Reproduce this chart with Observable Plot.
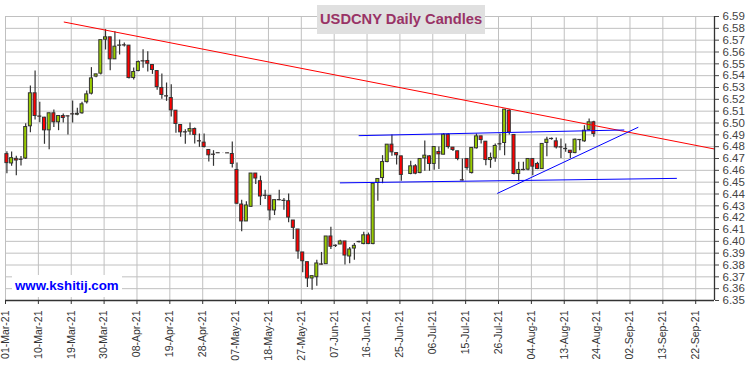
<!DOCTYPE html>
<html>
<head>
<meta charset="utf-8">
<script src="https://cdn.jsdelivr.net/npm/d3@7"></script>
<script src="https://cdn.jsdelivr.net/npm/@observablehq/plot@0.6"></script>
<style>
  body { margin: 0; background: #fff; }
  #wrap { position: relative; width: 750px; height: 366px; font-family: "Liberation Sans", Arial, sans-serif; }
  #title { position: absolute; left: 317px; top: 5px; height: 29px; line-height: 29px; padding: 0 3px;
           background: #e0e0e0; color: #993366; font-weight: bold; font-size: 14.7px; white-space: nowrap; }
  #mark { position: absolute; left: 12px; top: 275px; width: 107px; height: 22px; line-height: 22px; padding-left: 3px;
          background: #fff; color: #0000ff; font-weight: bold; font-size: 13.3px; white-space: nowrap; }
</style>
</head>
<body>
<div id="wrap">
  <div id="title">USDCNY Daily Candles</div>
  <div id="mark">www.kshitij.com</div>
</div>
<script>
// Daily candles, one per weekday starting 01-Mar-21 (null = no visible candle)
const opens = [
6.4737,6.4658,6.4697,6.4690,6.4700,6.4972,6.5251,6.5055,6.5045,6.4938,
6.5082,6.5006,6.5059,6.5057,6.5074,6.5070,6.5082,6.5175,6.5248,6.5392,
6.5417,6.5704,6.5724,6.5538,6.5655,6.5657,6.5654,6.5380,6.5439,6.5522,
6.5524,6.5490,6.5439,6.5296,6.5226,6.5211,6.5104,6.4983,6.4922,6.4927,
6.4949,6.4846,6.4834,6.4772,6.4733,6.4745,6.4744,6.4744,6.4738,6.4603,
6.4311,6.4168,6.4292,6.4573,6.4508,6.4386,6.4385,6.4261,6.4349,6.4343,
6.4339,6.4176,6.4100,6.3906,6.3824,6.3686,6.3697,6.3805,6.3807,6.4041,
6.3963,6.3973,6.3999,6.3872,6.3939,6.3993,6.3977,6.4051,6.3977,6.4493,
6.4535,6.4670,6.4817,6.4746,6.4718,null,6.4569,6.4634,6.4577,6.4701,
6.4718,6.4654,6.4755,6.4732,6.4901,6.4792,6.4761,6.4516,6.4696,6.4577,
6.4786,6.4887,6.4842,6.4687,6.4701,6.4821,6.4831,6.5104,6.4899,6.4569,
6.4604,6.4606,6.4696,6.4654,6.4611,6.4831,6.4866,6.4845,6.4795,6.4781,
6.4766,6.4746,6.4857,6.4845,6.4941,6.5006];
const highs = [
6.4757,6.4754,6.4720,6.4717,6.4994,6.5313,6.5439,6.5175,6.5048,6.5084,
6.5110,6.5061,6.5076,6.5058,6.5186,6.5124,6.5175,6.5270,6.5468,6.5411,
6.5700,6.5789,6.5724,6.5772,6.5701,6.5676,6.5654,6.5465,6.5524,6.5620,
6.5603,6.5490,6.5439,6.5414,6.5338,6.5324,6.5104,6.4983,6.4944,6.5000,
6.4958,6.4907,6.4907,6.4772,6.4766,6.4745,6.4745,6.4745,6.4839,6.4662,
6.4348,6.4334,6.4573,6.4573,6.4551,6.4432,6.4385,6.4348,6.4432,6.4362,
6.4401,6.4176,6.4100,6.3906,6.3824,6.3706,6.3841,6.3906,6.4041,6.4120,
6.3970,6.4010,6.3999,6.3948,6.3982,6.4000,6.4076,6.4070,6.4487,6.4527,
6.4724,6.4817,6.4899,6.4746,6.4718,null,6.4676,6.4648,6.4696,6.4848,
6.4724,6.4797,6.4797,6.4910,6.4910,6.4792,6.4761,6.4696,6.4696,6.4789,
6.4907,6.4887,6.4842,6.4746,6.4823,6.4907,6.5113,6.5113,6.4899,6.4668,
6.4668,6.4696,6.4696,6.4668,6.4823,6.4879,6.4873,6.4873,6.4865,6.4823,
6.4766,6.4865,6.4860,6.4977,6.5034,6.5014];
const lows = [
6.4572,6.4634,6.4554,6.4636,6.4692,6.4918,6.5025,6.5003,6.4820,6.4775,
6.4961,6.4935,6.5000,6.4899,6.5000,6.5062,6.5073,6.5161,6.5237,6.5383,
6.5406,6.5617,6.5442,6.5538,6.5575,6.5642,6.5372,6.5363,6.5434,6.5462,
6.5431,6.5411,6.5276,6.5200,6.5183,6.5051,6.4913,6.4879,6.4820,6.4896,
6.4823,6.4794,6.4789,6.4670,6.4634,6.4743,6.4743,6.4743,6.4620,6.4310,
6.4080,6.4168,6.4286,6.4480,6.4303,6.4354,6.4173,6.4218,6.4342,6.4263,
6.4156,6.4015,6.3849,6.3734,6.3610,6.3587,6.3621,6.3799,6.3807,6.3931,
6.3948,6.3973,6.3799,6.3811,6.3841,6.3985,6.3972,6.3972,6.3972,6.4338,
6.4487,6.4665,6.4718,6.4645,6.4507,null,6.4563,6.4563,6.4572,6.4592,
6.4592,6.4600,6.4606,6.4732,6.4780,6.4760,6.4680,6.4510,6.4600,6.4570,
6.4780,6.4823,6.4639,6.4617,6.4668,6.4766,6.4724,6.4899,6.4560,6.4504,
6.4597,6.4597,6.4555,6.4606,6.4606,6.4715,6.4855,6.4780,6.4701,6.4752,
6.4701,6.4740,6.4766,6.4837,6.4935,6.4879];
const closes = [
6.4661,6.4703,6.4683,6.4688,6.4966,6.5251,6.5059,6.5053,6.4938,6.5082,
6.5006,6.5059,6.5042,6.5055,6.5072,6.5078,6.5158,6.5242,6.5377,6.5411,
6.5700,6.5724,6.5538,6.5645,6.5653,6.5655,6.5380,6.5431,6.5515,6.5520,
6.5501,6.5448,6.5304,6.5237,6.5224,6.5107,6.4992,6.4921,6.4920,6.4949,
6.4899,6.4844,6.4797,6.4727,6.4731,6.4744,6.4744,6.4743,6.4654,6.4318,
6.4168,6.4303,6.4573,6.4531,6.4379,6.4384,6.4261,6.4348,6.4347,6.4341,
6.4201,6.4114,6.3914,6.3832,6.3686,6.3706,6.3813,6.3803,6.4041,6.3954,
6.3961,6.3999,6.3880,6.3931,6.3962,6.3995,6.4051,6.3977,6.4487,6.4527,
6.4670,6.4817,6.4752,6.4727,6.4561,null,6.4634,6.4572,6.4696,6.4724,
6.4654,6.4797,6.4735,6.4901,6.4797,6.4772,6.4696,6.4514,6.4620,6.4789,
6.4887,6.4856,6.4687,6.4704,6.4806,6.4819,6.5113,6.4921,6.4569,6.4603,
6.4602,6.4696,6.4631,6.4611,6.4823,6.4859,6.4864,6.4794,6.4793,6.4779,
6.4746,6.4859,6.4855,6.4935,6.5006,6.4907];

// x tick labels, one every 7 weekdays
const tickLabels = ["01-Mar-21","10-Mar-21","19-Mar-21","30-Mar-21","08-Apr-21","19-Apr-21","28-Apr-21",
  "07-May-21","18-May-21","27-May-21","07-Jun-21","16-Jun-21","25-Jun-21","06-Jul-21","15-Jul-21",
  "26-Jul-21","04-Aug-21","13-Aug-21","24-Aug-21","02-Sep-21","13-Sep-21","22-Sep-21"];
const yTickValues = d3.range(635, 660).map(v => v / 100);

// trend lines (weekday index, price)
const redLineX = [12.5, 150.9], redLineY = [6.5853, 6.4781];
const blueTopX = [75.3, 131.7], blueTopY = [6.4893, 6.4941];
const blueBottomX = [71.3, 142.9], blueBottomY = [6.4494, 6.4532];
const blueRiseX = [104.8, 134.7], blueRiseY = [6.4406, 6.4963];

const xDomain = [0, 151];
const yDomain = [6.35, 6.59];
const xTicks = tickLabels.map((_, k) => k * 7);

const candles = opens.map((o, i) => o == null ? null : {i, o, h: highs[i], l: lows[i], c: closes[i]}).filter(Boolean);
const pts = (xs, ys) => xs.map((x, k) => ({x, y: ys[k]}));

const off = 0.3, hw = 0.32;
const chart = Plot.plot({
  width: 750, height: 366,
  marginLeft: 5, marginRight: 36, marginTop: 16, marginBottom: 66,
  style: {fontFamily: "Liberation Sans, Arial, sans-serif", fontSize: "11px", background: "#fff"},
  x: {domain: xDomain, axis: null, label: null},
  y: {domain: yDomain, axis: null, label: null},
  marks: [
    Plot.gridX(xTicks, {stroke: "#c0c0c0", strokeOpacity: 1}),
    Plot.gridY(yTickValues, {stroke: "#c0c0c0", strokeOpacity: 1}),
    Plot.ruleX(candles, {x: d => d.i + off, y1: "l", y2: "h", stroke: "#333", strokeWidth: 1.2}),
    Plot.rect(candles, {
      x1: d => d.i + off - hw, x2: d => d.i + off + hw,
      y1: d => Math.min(d.o, d.c), y2: d => Math.max(d.o, d.c),
      fill: d => d.c >= d.o ? "#99cc00" : "#ff0000", stroke: "#333", strokeWidth: 1
    }),
    Plot.line(pts(redLineX, redLineY), {x: "x", y: "y", stroke: "#ff0000", strokeWidth: 1}),
    Plot.line(pts(blueTopX, blueTopY), {x: "x", y: "y", stroke: "#0000ff", strokeWidth: 1}),
    Plot.line(pts(blueBottomX, blueBottomY), {x: "x", y: "y", stroke: "#0000ff", strokeWidth: 1}),
    Plot.line(pts(blueRiseX, blueRiseY), {x: "x", y: "y", stroke: "#0000ff", strokeWidth: 1}),
    Plot.ruleY([yDomain[0]], {stroke: "#333", strokeWidth: 1.3}),
    Plot.ruleX([xDomain[1]], {stroke: "#333", strokeWidth: 1.3}),
    Plot.axisX(xTicks, {anchor: "bottom", label: null, tickRotate: -90, tickSize: 4, tickPadding: 6, fontSize: 10.5,
      color: "#333", tickFormat: d => tickLabels[Math.round(d / 7)]}),
    Plot.axisY(yTickValues, {anchor: "right", label: null, tickSize: 4, tickPadding: 4, fontSize: 11.5, color: "#444",
      tickFormat: d => d.toFixed(2)})
  ]
});
document.getElementById("wrap").insertBefore(chart, document.getElementById("title"));
</script>
</body>
</html>
